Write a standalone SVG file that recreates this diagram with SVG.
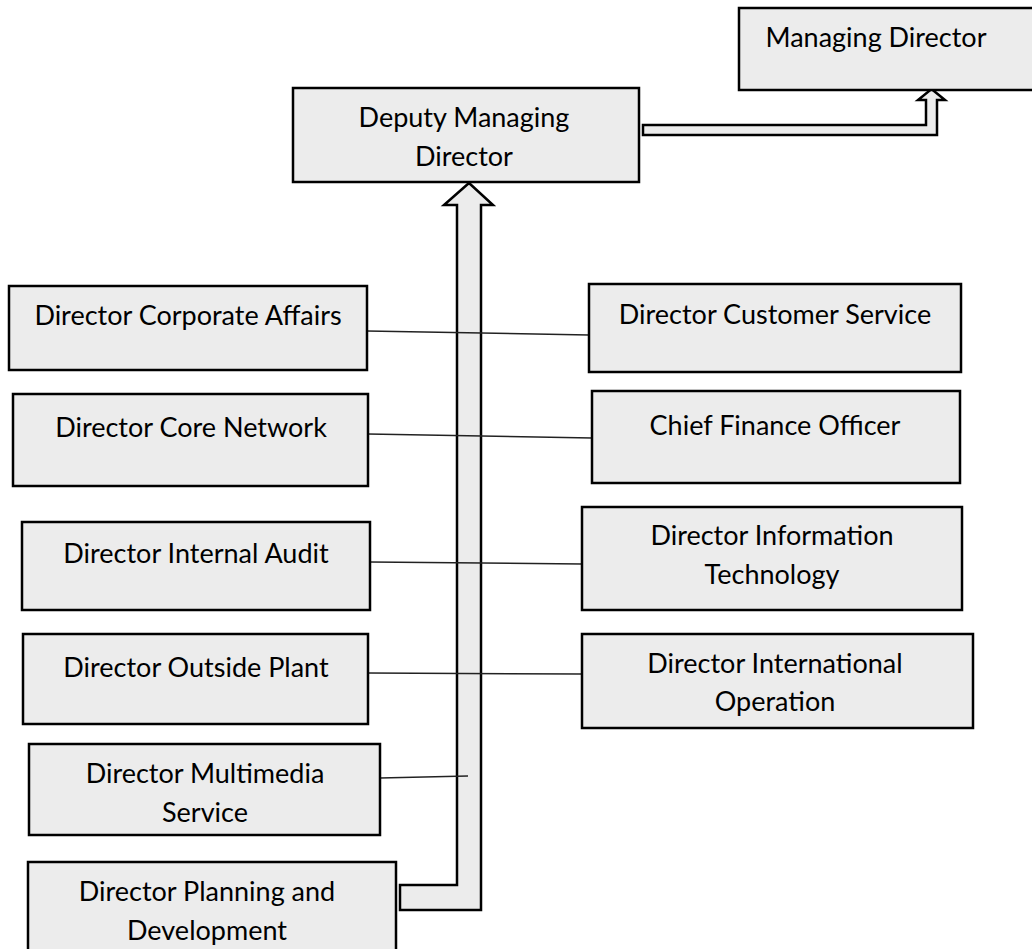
<svg xmlns="http://www.w3.org/2000/svg" width="1032" height="949" viewBox="0 0 1032 949">
<style>
.box{fill:#ececec;stroke:#000;stroke-width:2.5}
.t{font-family:Lato,"Liberation Sans",sans-serif;font-size:27px;fill:#000;text-anchor:middle}
.arrow{fill:#ececec;stroke:#000;stroke-width:2.5;stroke-linejoin:miter}
.link{stroke:#222;stroke-width:1.5;fill:none}
</style>
<rect width="1032" height="949" fill="#fff"/>
<g id="connectors">
<path class="arrow" d="M469,183 L493,205 L481,205 L481,910 L400,910 L400,885 L457,885 L457,205 L444,205 Z"/>
<path class="arrow" d="M931.5,89 L945,100 L937,100 L937,135 L643,135 L643,125 L926,125 L926,100 L918,100 Z"/>
<line class="link" x1="367" y1="331" x2="589" y2="335"/>
<line class="link" x1="368" y1="434" x2="592" y2="438"/>
<line class="link" x1="370" y1="562" x2="582" y2="564"/>
<line class="link" x1="368" y1="673" x2="582" y2="674"/>
<line class="link" x1="380" y1="778" x2="468" y2="776"/>
</g>
<g id="managing-director"><rect class="box" x="739" y="8" width="310" height="82"/><text class="t" x="876" y="47">Managing Director</text></g>
<g id="deputy-managing-director"><rect class="box" x="293" y="88" width="346" height="94"/><text class="t" x="464" y="127">Deputy Managing</text><text class="t" x="464" y="166">Director</text></g>
<g id="director-corporate-affairs"><rect class="box" x="9" y="286" width="358" height="84"/><text class="t" x="188" y="325">Director Corporate Affairs</text></g>
<g id="director-customer-service"><rect class="box" x="589" y="284" width="372" height="88"/><text class="t" x="775" y="324">Director Customer Service</text></g>
<g id="director-core-network"><rect class="box" x="13" y="394" width="355" height="92"/><text class="t" x="191" y="437">Director Core Network</text></g>
<g id="chief-finance-officer"><rect class="box" x="592" y="391" width="368" height="92"/><text class="t" x="775" y="435">Chief Finance Officer</text></g>
<g id="director-internal-audit"><rect class="box" x="22" y="522" width="348" height="88"/><text class="t" x="196" y="563">Director Internal Audit</text></g>
<g id="director-information-technology"><rect class="box" x="582" y="507" width="380" height="103"/><text class="t" x="772" y="545">Director Information</text><text class="t" x="772" y="584">Technology</text></g>
<g id="director-outside-plant"><rect class="box" x="23" y="634" width="345" height="90"/><text class="t" x="196" y="677">Director Outside Plant</text></g>
<g id="director-international-operation"><rect class="box" x="582" y="634" width="391" height="94"/><text class="t" x="775" y="673">Director International</text><text class="t" x="775" y="711">Operation</text></g>
<g id="director-multimedia-service"><rect class="box" x="29" y="744" width="351" height="91"/><text class="t" x="205" y="783">Director Multimedia</text><text class="t" x="205" y="822">Service</text></g>
<g id="director-planning-development"><rect class="box" x="28" y="862" width="368" height="100"/><text class="t" x="207" y="901">Director Planning and</text><text class="t" x="207" y="940">Development</text></g>
</svg>
